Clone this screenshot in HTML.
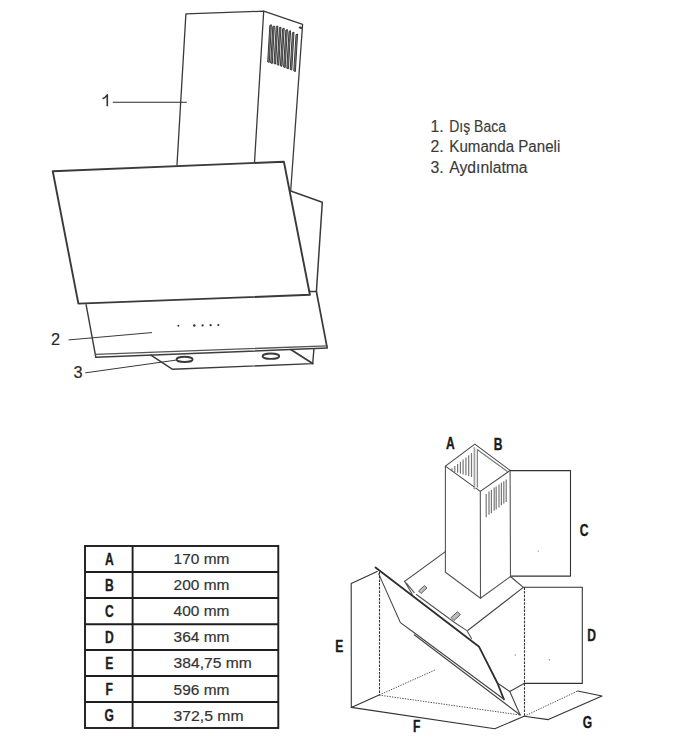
<!DOCTYPE html>
<html><head><meta charset="utf-8">
<style>
html,body{margin:0;padding:0;background:#fff;}
body{width:690px;height:750px;overflow:hidden;position:relative;font-family:"Liberation Sans",sans-serif;}
svg{position:absolute;left:0;top:0;}
</style></head><body>
<svg width="690" height="750" viewBox="0 0 690 750">
<rect x="0" y="0" width="690" height="750" fill="#fff"/>

<!-- ===== UPPER DIAGRAM ===== -->
<g fill="none" stroke="#3a3a3a" stroke-linejoin="round" stroke-linecap="round">
  <path d="M177,164.9 L185.9,13.9 L263.7,11.2 L302.6,24.3 L290.7,191" stroke-width="1.3"/>
  <path d="M263.7,11.2 L254.5,162.5" stroke-width="1.3"/>
  <path d="M299.8,27.5 L301.2,27.8" stroke-width="2.2"/>
  <path d="M290.7,191 L322.3,202.3 L316.4,291.5 L310,291.5" stroke-width="1.5"/>
  <path d="M52.75,171.3 L283.9,161.7 L309.9,294.8 L78.4,303.6 Z" stroke-width="1.9"/>
  <path d="M86.1,304.6 L95.8,357.2" stroke-width="1.4"/>
  <path d="M327.1,347.5 L316.4,291.5" stroke-width="1.7"/>
  <path d="M95.5,354.4 L327.1,345.8" stroke-width="1.3" stroke="#555"/>
  <path d="M95.8,357.3 L327.1,348.1" stroke-width="1.5" stroke="#3e3e3e"/>
  <path d="M150.9,355.2 L172.6,369.3 L312.7,363.6 L313.9,349.2" stroke-width="1.4"/>
  <path d="M290.8,349.6 L312.7,363.6" stroke-width="1.8"/>
  <ellipse cx="184.6" cy="359.4" rx="8" ry="2.6" stroke-width="1.9"/>
  <ellipse cx="270.9" cy="356.2" rx="8.3" ry="2.7" stroke-width="1.9"/>
  <path d="M113.2,102.2 L186.4,102.2" stroke-width="1.1" stroke="#2a2a2a"/>
  <path d="M107.3,106.2 V94.9 Q105.5,97.6 102.6,98.8" stroke-width="1.6" stroke="#333" stroke-linecap="butt"/>
  <path d="M69,339.9 L151.6,332.6" stroke-width="1"/>
  <path d="M85.7,372.8 L176.2,360.1" stroke-width="1"/>
</g>
<g fill="#888" stroke="#2a2a2a" stroke-width="0.9" stroke-linejoin="round">
  <path d="M269.8,25.3 L267.7,61.9 L269.3,62.4 L271.4,24.8 Z M272.8,26.5 L270.7,63.0 L272.3,63.5 L274.4,26.0 Z M276.2,26.5 L274.0,63.5 L275.6,64.0 L277.8,26.0 Z M279.4,27.7 L277.2,64.7 L278.8,65.2 L281.0,27.2 Z M282.6,28.7 L280.4,65.8 L282.0,66.3 L284.2,28.2 Z M285.8,30.1 L283.6,67.1 L285.2,67.6 L287.4,29.6 Z M289.0,31.3 L286.8,68.3 L288.4,68.8 L290.6,30.8 Z M292.4,32.7 L290.2,69.5 L291.8,70.0 L294.0,32.2 Z M296.0,34.6 L293.8,71.0 L295.4,71.5 L297.6,34.1 Z"/>
</g>
<g fill="#333">
  <circle cx="178.4" cy="325.8" r="1.0"/>
  <circle cx="194.3" cy="325.6" r="1.25"/>
  <circle cx="202.6" cy="325.4" r="1.1"/>
  <circle cx="210.6" cy="325.2" r="1.1"/>
  <circle cx="218.3" cy="325" r="1.1"/>
</g>
<g font-family="Liberation Sans" font-size="16.3" fill="#2a2a2a" stroke="#2a2a2a" stroke-width="0.2">
    <text x="51" y="344.5">2</text>
  <text x="73.5" y="377.8">3</text>
</g>

<!-- list text -->
<g font-family="Liberation Sans" font-size="15.8" fill="#3a3a3a" stroke="#3a3a3a" stroke-width="0.15">
  <text x="430.5" y="131.7">1.</text><text x="449.3" y="131.7" textLength="56.6" lengthAdjust="spacingAndGlyphs">Dış Baca</text>
  <text x="430.5" y="151.9">2.</text><text x="449.3" y="151.9" textLength="111" lengthAdjust="spacingAndGlyphs">Kumanda Paneli</text>
  <text x="430.5" y="172.6">3.</text><text x="449.3" y="172.6" textLength="78.3" lengthAdjust="spacingAndGlyphs">Aydınlatma</text>
</g>

<!-- ===== TABLE ===== -->
<g fill="none" stroke="#1e1e1e" stroke-width="1.9">
  <rect x="85" y="546" width="193.3" height="182"/>
  <path d="M132.6,546 V728"/>
  <path d="M85,572 H278.3 M85,598 H278.3 M85,624.2 H278.3 M85,650 H278.3 M85,676 H278.3 M85,702 H278.3"/>
</g>
<g font-family="Liberation Sans" font-weight="bold" font-size="16.8" fill="#1e1e1e" stroke="#1e1e1e" stroke-width="0.35" text-anchor="middle">
  <text transform="translate(109.3 564.6) scale(0.72 1)">A</text>
  <text transform="translate(109.3 590.8) scale(0.72 1)">B</text>
  <text transform="translate(109.3 616.6) scale(0.72 1)">C</text>
  <text transform="translate(109.3 643.3) scale(0.72 1)">D</text>
  <text transform="translate(109.3 669.3) scale(0.72 1)">E</text>
  <text transform="translate(109.3 695.3) scale(0.72 1)">F</text>
  <text transform="translate(109.3 721.3) scale(0.72 1)">G</text>
</g>
<g font-family="Liberation Sans" font-size="15" fill="#333" stroke="#333" stroke-width="0.2">
  <text x="173.6" y="564" textLength="55.8" lengthAdjust="spacingAndGlyphs">170 mm</text>
  <text x="173.6" y="590.2" textLength="55.8" lengthAdjust="spacingAndGlyphs">200 mm</text>
  <text x="173.6" y="616.3" textLength="55.8" lengthAdjust="spacingAndGlyphs">400 mm</text>
  <text x="173.6" y="642.4" textLength="55.8" lengthAdjust="spacingAndGlyphs">364 mm</text>
  <text x="173.6" y="668.4" textLength="78.2" lengthAdjust="spacingAndGlyphs">384,75 mm</text>
  <text x="173.6" y="694.5" textLength="55.8" lengthAdjust="spacingAndGlyphs">596 mm</text>
  <text x="173.6" y="720.6" textLength="70" lengthAdjust="spacingAndGlyphs">372,5 mm</text>
</g>

<!-- ===== LOWER DIAGRAM ===== -->
<g fill="none" stroke="#444" stroke-width="1.1" stroke-linejoin="round" stroke-linecap="round">
  <!-- chimney -->
  <path d="M445.4,466.1 L474.8,444.1 L510.1,470.4 L480.3,491.4 Z" stroke="#4a4a4a"/>
  <path d="M445.4,466.1 L445.4,572.2 L480.5,598.2 L510.5,576.5 L510.1,470.4" stroke="#555"/>
  <path d="M480.3,491.4 L480.5,598.2" stroke="#555"/>
  <path d="M475.8,448.5 V488" stroke="#e4e4e4" stroke-width="2.6" stroke-linecap="butt"/>
  <path d="M474.2,447.6 V488.9 M477.5,449.8 V487" stroke="#888"/>
  <path d="M477.5,449.8 L507.4,471.5" stroke="#777"/>
  <!-- C bracket -->
  <path d="M510.4,470.6 H570.5 V576.1 H511.5" stroke="#333"/>
  <!-- D bracket -->
  <path d="M523.3,587.2 H582.3 V683.4 H524.1" stroke="#333"/>
  <!-- hood top -->
  <path d="M404.3,581.6 L445.4,551.6"/>
  <path d="M510.5,576.5 L523.3,587.4 L468,630.3"/>
  <!-- bracket left -->
  <path d="M404.6,581.3 L412.2,594.2 M406.4,583.2 L414.2,592.6" stroke="#555"/>
  <path d="M416.4,594.5 L455.3,623 L466.9,630.6 L471.5,638.6" stroke="#555"/>
  <!-- glass -->
  <path d="M375.5,567.5 L479.1,646.8 L497.4,683 L503.9,699.3" stroke-width="1.8" stroke="#2e2e2e"/>
  <path d="M378.7,573.9 L400.4,622.6 L414.2,632.8 L503.9,699.3"/>
  <path d="M414.2,634.8 L520.2,715"/>
  <path d="M497.4,683 L509.8,691.5 L524.1,683.4"/>
  <path d="M509.8,691.5 L520.2,715"/>
  <!-- E bracket -->
  <path d="M377.2,571.6 L351.2,583.5 L351.3,707.4 L379.1,695.1" stroke="#333"/>
  <!-- F line -->
  <path d="M351.3,707.4 L494.8,728.7 L524.1,716.3" stroke="#333"/>
  <!-- G platform -->
  <path d="M524.1,716.3 L548.3,719.6 L602,696 L577.7,691" stroke="#333"/>
</g>
<!-- clips -->
<g fill="#bbb" stroke="#555" stroke-width="0.9">
  <path d="M418.5,591 L424.5,585.5 L427,588 L421,593.5 Z"/>
  <path d="M451,617.5 L457.5,611.8 L460.5,614.5 L454,620.5 Z"/>
</g>
<!-- vents -->
<g fill="none" stroke="#777" stroke-width="1.2">
  <path d="M486.2,494.0 V517.2 M489.0,491.6 V514.8 M491.4,490.0 V513.2 M494.2,487.6 V510.8 M496.2,486.4 V509.6 M499.0,484.4 V507.6 M501.4,482.8 V505.2 M503.8,481.2 V503.6 M506.2,479.6 V502.0"/>
  <path d="M452.0,468.3 V471.0 M454.8,466.1 V471.9 M457.6,463.9 V472.7 M460.4,461.7 V473.6 M463.1,459.6 V474.4 M465.9,457.4 V475.3 M468.7,455.2 V476.1 M471.5,453.0 V477.0"/>
</g>
<g fill="#888"><circle cx="538.2" cy="551.1" r="0.7"/><circle cx="549.4" cy="659.7" r="0.7"/><circle cx="515.2" cy="655" r="0.7"/></g>
<!-- dashed lines -->
<g fill="none" stroke="#333" stroke-width="1.1" stroke-dasharray="2.5 1.2">
  <path d="M379.5,572 V695.1"/>
  <path d="M524.5,587.4 V716.3"/>
</g>
<g fill="none" stroke="#555" stroke-width="1" stroke-dasharray="1.4 1.2">
  <path d="M379.1,695.1 L520.2,715"/>
  <path d="M379.1,695.1 L435.7,669.7"/>
  <path d="M524.1,716.3 L577.7,691"/>
</g>
<g font-family="Liberation Sans" font-weight="bold" font-size="16.8" fill="#1a1a1a" stroke="#1a1a1a" stroke-width="0.35" text-anchor="middle">
  <text transform="translate(450.3 448.9) scale(0.72 1)">A</text>
  <text transform="translate(498.1 449.6) scale(0.72 1)">B</text>
  <text transform="translate(584.1 535.6) scale(0.72 1)">C</text>
  <text transform="translate(591.6 640.7) scale(0.72 1)">D</text>
  <text transform="translate(339.3 652.3) scale(0.72 1)">E</text>
  <text transform="translate(416.8 732) scale(0.72 1)">F</text>
  <text transform="translate(587.5 727.7) scale(0.72 1)">G</text>
</g>
</svg>
</body></html>
